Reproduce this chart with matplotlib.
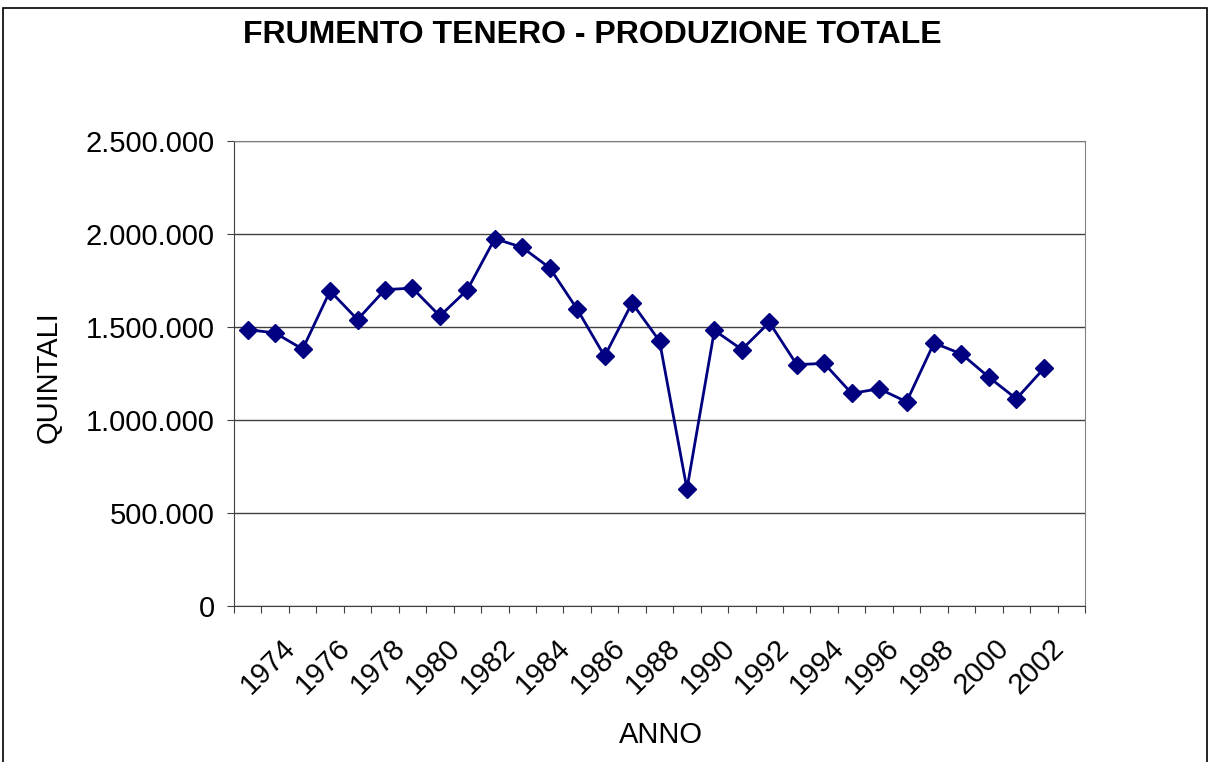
import matplotlib
matplotlib.use('Agg')
from matplotlib import pyplot as plt
from matplotlib.patches import Rectangle
import matplotlib.transforms as mtransforms

plt.rcParams['font.family'] = ['Liberation Sans', 'DejaVu Sans']

years = list(range(1973, 2003))
produzione = [1486000, 1468000, 1381000, 1694000, 1540000, 1701000, 1709000, 1559000,
              1700000, 1975000, 1928000, 1818000, 1596000, 1343000, 1629000, 1425000,
              629000, 1482000, 1379000, 1525000, 1298000, 1304000, 1143000, 1168000,
              1098000, 1414000, 1355000, 1230000, 1114000, 1277000]
y_ticks = [0, 500000, 1000000, 1500000, 2000000, 2500000]
y_ticklabels = ['0', '500.000', '1.000.000', '1.500.000', '2.000.000', '2.500.000']
n_cat = 31  # one empty category after the last year

fig = plt.figure(figsize=(12.11, 7.62), dpi=100)
W, H = 1211, 762
ax = fig.add_axes([234 / W, 1 - 606 / H, (1085 - 234) / W, (606 - 141) / H])

# outer frame of the chart
fig.patches.append(Rectangle((3 / W, -0.05), 1204 / W, 1 - 8 / H + 0.05,
                             transform=fig.transFigure, fill=False,
                             edgecolor='black', linewidth=1.2))

x = [i + 0.5 for i in range(len(years))]
ax.plot(x, produzione, color='#000080', linewidth=2, marker='D',
        markersize=9, markerfacecolor='#000080', markeredgecolor='#000080')

ax.set_xlim(0, n_cat)
ax.set_ylim(0, 2500000)
ax.set_yticks(y_ticks)
ax.set_yticklabels(y_ticklabels, fontsize=21)
ax.grid(axis='y', color='#404040', linewidth=1)
ax.set_axisbelow(True)

# tick marks at category boundaries, labels every other year
ax.set_xticks(range(n_cat + 1))
ax.set_xticklabels([])
lab_pos = [i + 0.5 for i in range(1, len(years), 2)]
lab_txt = [str(years[i]) for i in range(1, len(years), 2)]
ax.set_xticks(lab_pos, minor=True)
ax.set_xticklabels(lab_txt, minor=True, fontsize=21, rotation=45,
                   ha='right', rotation_mode='anchor')
ax.tick_params(axis='x', which='minor', length=0, pad=20)
ax.tick_params(axis='x', which='major', length=5, direction='out', color='#404040')
ax.tick_params(axis='y', length=5, direction='out', color='#404040', pad=9)
offset = mtransforms.ScaledTranslation(6 / 100, 0, fig.dpi_scale_trans)
for lab in ax.get_xticklabels(minor=True):
    lab.set_transform(lab.get_transform() + offset)

for side in ['top', 'right']:
    ax.spines[side].set_color('#808080')
for side in ['left', 'bottom']:
    ax.spines[side].set_color('#404040')

fig.text(592 / W, 1 - 35 / H, 'FRUMENTO TENERO - PRODUZIONE TOTALE',
         ha='center', va='center', fontsize=23, fontweight='bold')
fig.text(661 / W, 1 - 735 / H, 'ANNO', ha='center', va='center', fontsize=21)
fig.text(49 / W, 1 - 377 / H, 'QUINTALI', ha='center', va='center',
         fontsize=21, rotation=90)

fig.savefig('out.png', dpi=100)
